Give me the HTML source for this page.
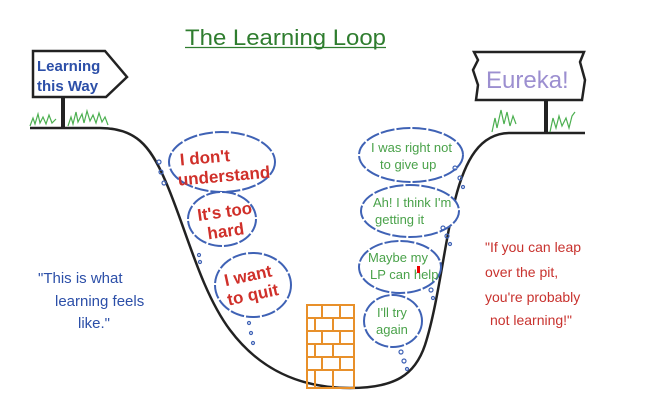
<!DOCTYPE html>
<html><head><meta charset="utf-8"><style>
html,body{margin:0;padding:0;background:#fff;}
svg{display:block}
text{font-family:"Liberation Sans",sans-serif}
</style></head><body>
<svg width="655" height="415" viewBox="0 0 655 415" xmlns="http://www.w3.org/2000/svg">
<rect width="655" height="415" fill="#fff"/>
<text x="185" y="45" font-size="22" fill="#2f7d2f" textLength="201" lengthAdjust="spacingAndGlyphs">The Learning Loop</text>
<line x1="185" y1="47.5" x2="386" y2="47.5" stroke="#2f7d2f" stroke-width="1.3"/>
<path d="M30,128 L100,128 C135,128 150,145 165,180 C185,225 200,290 230,330 C260,370 300,388 350,388 C395,388 415,375 425,345 C438,305 445,240 455,200 C465,160 480,133 510,133 L585,133" fill="none" stroke="#222" stroke-width="2.5"/>
<path d="M33,51 L105,51 L127,77 L106,97 L33,97 Z" fill="#fff" stroke="#222" stroke-width="2.5"/>
<text x="37" y="71" font-size="15" fill="#2c4fa8" font-weight="bold">Learning</text>
<text x="37" y="91" font-size="15" fill="#2c4fa8" font-weight="bold">this Way</text>
<rect x="61" y="97" width="4" height="31" fill="#222"/>
<path d="M30,126 l3,-8 2,6 3,-10 2,9 3,-6 3,7 3,-9 3,8 4,-4 M68,126 l3,-9 2,7 3,-12 2,10 4,-8 2,9 3,-12 3,10 3,-6 3,8 3,-10 3,9 3,-5 3,8" fill="none" stroke="#4caf50" stroke-width="1.2"/>
<path d="M474,52 L584,52 L580,62 L585,80 L582,100 L476,100 L478,85 L473,70 L478,60 Z" fill="#fff" stroke="#222" stroke-width="2.5"/>
<text x="486" y="88" font-size="24" fill="#9c8fd0">Eureka!</text>
<rect x="544" y="100" width="4" height="33" fill="#222"/>
<path d="M492,132 l3,-14 2,10 4,-18 3,14 3,-12 3,14 3,-10 3,8 M550,132 l3,-14 3,10 3,-12 3,10 4,-8 3,10 3,-12 3,-4" fill="none" stroke="#4caf50" stroke-width="1.2"/>
<g fill="#fff" stroke="#3f62b5" stroke-width="2" stroke-dasharray="14 2">
<ellipse cx="222" cy="162" rx="53" ry="30"/>
<ellipse cx="222" cy="219" rx="34" ry="27"/>
<ellipse cx="253" cy="285" rx="38" ry="32"/>
<ellipse cx="411" cy="155" rx="52" ry="27"/>
<ellipse cx="410" cy="211" rx="49" ry="26"/>
<ellipse cx="400" cy="267" rx="41" ry="26"/>
<ellipse cx="393" cy="321" rx="29" ry="26"/>
</g>
<g fill="none" stroke="#3f62b5" stroke-width="1.2">
<circle cx="159" cy="162" r="2"/><circle cx="161" cy="172" r="2"/><circle cx="164" cy="183" r="2"/>
<circle cx="199" cy="255" r="1.5"/><circle cx="200" cy="262" r="1.5"/>
<circle cx="249" cy="323" r="1.5"/><circle cx="251" cy="333" r="1.5"/><circle cx="253" cy="343" r="1.5"/>
<circle cx="455" cy="168" r="2"/><circle cx="460" cy="178" r="2"/><circle cx="463" cy="187" r="1.5"/>
<circle cx="443" cy="228" r="2"/><circle cx="447" cy="236" r="2"/><circle cx="450" cy="244" r="1.5"/>
<circle cx="431" cy="290" r="2"/><circle cx="433" cy="298" r="1.5"/>
<circle cx="401" cy="352" r="2"/><circle cx="404" cy="361" r="2"/><circle cx="407" cy="369" r="1.5"/>
</g>
<g fill="#d0302a" font-weight="bold" font-size="17">
<text x="180" y="162" transform="rotate(-5 220 160)">I don't</text>
<text x="178" y="182" transform="rotate(-5 220 180)">understand</text>
<text x="198" y="218" transform="rotate(-8 220 218)">It's too</text>
<text x="208" y="237" transform="rotate(-8 225 236)">hard</text>
<text x="225" y="280" transform="rotate(-12 255 280)">I want</text>
<text x="228" y="300" transform="rotate(-12 255 300)">to quit</text>
</g>
<g fill="#4aa24a" font-size="13">
<text x="371" y="152">I was right not</text>
<text x="380" y="169">to give up</text>
<text x="373" y="207">Ah! I think I'm</text>
<text x="375" y="224">getting it</text>
<text x="368" y="262">Maybe my</text>
<text x="370" y="279">LP can help</text>
<text x="377" y="317">I'll try</text>
<text x="376" y="334">again</text>
</g>
<rect x="417" y="266" width="3" height="7" fill="#e00"/>
<g fill="none" stroke="#e8902a" stroke-width="2">
<rect x="307" y="305" width="47" height="83"/>
<path d="M307,318H354M307,331H354M307,344H354M307,357H354M307,370H354M322,305V318M340,305V318M315,318V331M333,318V331M322,331V344M340,331V344M315,344V357M333,344V357M322,357V370M340,357V370M315,370V388M333,370V388"/>
</g>
<g fill="#2c4fa8" font-size="15">
<text x="38" y="283">"This is what</text>
<text x="55" y="306">learning feels</text>
<text x="78" y="328">like."</text>
</g>
<g fill="#c8322e" font-size="14">
<text x="485" y="252">"If you can leap</text>
<text x="485" y="277">over the pit,</text>
<text x="485" y="302">you're probably</text>
<text x="490" y="325">not learning!"</text>
</g>
</svg>
</body></html>
